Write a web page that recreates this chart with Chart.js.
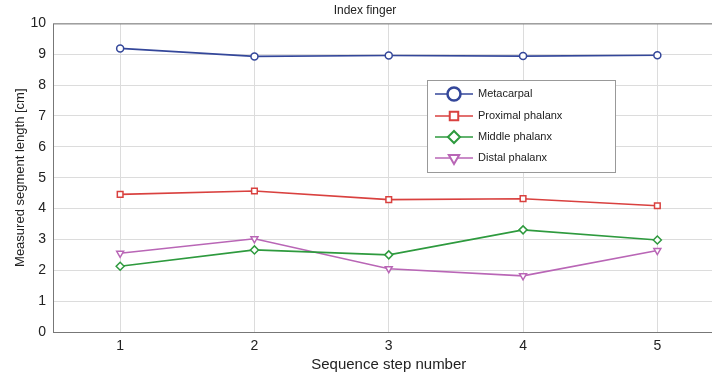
<!DOCTYPE html>
<html>
<head>
<meta charset="utf-8">
<script src="https://cdn.jsdelivr.net/npm/chart.js@4.4.1/dist/chart.umd.min.js"></script>
<style>
  html, body { margin: 0; padding: 0; background: #fff; overflow: hidden; }
  #wrap { width: 730px; height: 377px; }
</style>
</head>
<body>
<div id="wrap"><canvas id="fingerChart" width="730" height="377"></canvas></div>
<script>
// ========================
// DATA
// ========================
const steps = ['1', '2', '3', '4', '5'];
const metacarpal = [9.19, 8.93, 8.96, 8.94, 8.97];
const proximal = [4.46, 4.57, 4.29, 4.32, 4.09];
const middle = [2.13, 2.66, 2.50, 3.31, 2.98];
const distal = [2.55, 3.02, 2.05, 1.82, 2.64];
const yTicks = [0, 1, 2, 3, 4, 5, 6, 7, 8, 9, 10];

const FONT = '"Liberation Sans", Arial, sans-serif';

// legend box drawn inside the plot, like the matlab one
const boxLegend = {
  id: 'boxLegend',
  afterDraw(chart) {
    const ctx = chart.ctx;
    const area = chart.chartArea;
    ctx.save();
    // frame round the plot
    ctx.strokeStyle = '#777';
    ctx.lineWidth = 1;
    ctx.strokeRect(area.left + 0.5, area.top + 0.5, area.right - area.left, area.bottom - area.top);

    const bx = 427, by = 80, bw = 188, bh = 92;
    ctx.fillStyle = '#fff';
    ctx.fillRect(bx, by, bw, bh);
    ctx.strokeStyle = '#999';
    ctx.strokeRect(bx + 0.5, by + 0.5, bw, bh);

    const rows = [94, 116, 137, 158];
    chart.data.datasets.forEach((ds, i) => {
      const y = rows[i];
      ctx.strokeStyle = ds.borderColor;
      ctx.lineWidth = 1.5;
      ctx.beginPath();
      ctx.moveTo(435, y);
      ctx.lineTo(473, y);
      ctx.stroke();
      ctx.fillStyle = '#fff';
      ctx.lineWidth = ds.legendBorder;
      Chart.helpers.drawPoint(ctx, {
        pointStyle: ds.pointStyle,
        radius: ds.legendRadius,
        rotation: ds.pointRotation || 0,
        borderWidth: ds.legendBorder
      }, 454, y);
      ctx.fillStyle = '#222';
      ctx.font = '11px ' + FONT;
      ctx.textBaseline = 'middle';
      ctx.textAlign = 'left';
      ctx.fillText(ds.label, 478, y);
    });
    ctx.restore();
  }
};

function series(label, data, color, style, extra) {
  return Object.assign({
    label: label,
    data: data,
    borderColor: color,
    backgroundColor: '#fff',
    borderWidth: 1.6,
    pointStyle: style,
    pointRadius: 3.5,
    pointBorderWidth: 1.5,
    pointBackgroundColor: '#fff',
    pointBorderColor: color,
    legendRadius: 6,
    legendBorder: 2,
    tension: 0
  }, extra || {});
}

// ========================
// CHART
// ========================
new Chart(document.getElementById('fingerChart').getContext('2d'), {
  type: 'line',
  data: {
    labels: steps,
    datasets: [
      series('Metacarpal', metacarpal, '#34479a', 'circle', { legendRadius: 6.5, legendBorder: 2.5 }),
      series('Proximal phalanx', proximal, '#d9413f', 'rect', { pointRadius: 4 }),
      series('Middle phalanx', middle, '#2e9a3e', 'rectRot', { pointRadius: 4 }),
      series('Distal phalanx', distal, '#b966b6', 'triangle', { pointRotation: 180, pointRadius: 4 })
    ]
  },
  options: {
    responsive: false,
    animation: false,
    layout: { padding: 0 },
    plugins: {
      legend: { display: false },
      tooltip: { enabled: false },
      title: {
        display: true,
        text: 'Index finger',
        color: '#222',
        font: { family: FONT, size: 12, weight: 'normal' },
        padding: { top: 3, bottom: 6 }
      }
    },
    scales: {
      x: {
        type: 'category',
        offset: true,
        grid: { color: '#dcdcdc', drawTicks: false, offset: false },
        border: { display: false },
        ticks: { color: '#222', padding: 6, font: { family: FONT, size: 14 } },
        title: {
          display: true,
          text: 'Sequence step number',
          color: '#222',
          font: { family: FONT, size: 15 },
          padding: { top: 0, bottom: 3 }
        },
        afterFit(scale) { scale.height = 45; }
      },
      y: {
        min: 0,
        max: 10,
        afterBuildTicks(scale) { scale.ticks = yTicks.map(v => ({ value: v })); },
        grid: { color: '#dcdcdc', drawTicks: false },
        border: { display: false },
        ticks: { color: '#222', padding: 7, font: { family: FONT, size: 14 } },
        title: {
          display: true,
          text: 'Measured segment length [cm]',
          color: '#222',
          font: { family: FONT, size: 13 },
          padding: { top: 13, bottom: 0 }
        },
        afterFit(scale) { scale.width = 53; }
      }
    }
  },
  plugins: [boxLegend]
});
</script>
</body>
</html>
